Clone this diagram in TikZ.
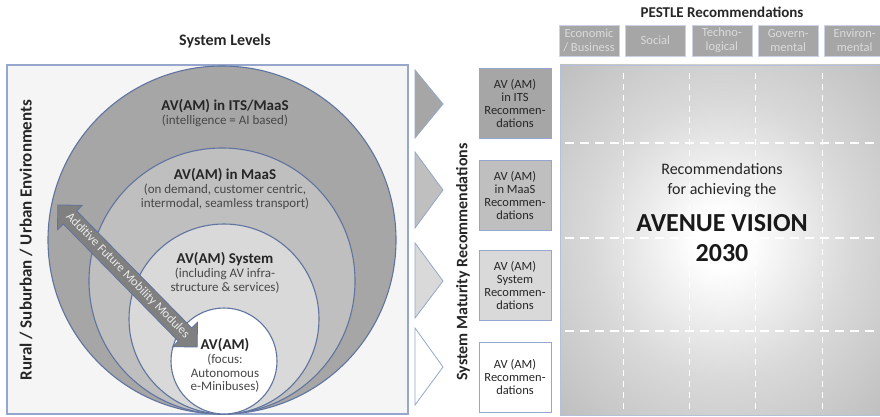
\documentclass[tikz,border=0pt]{standalone}
\usepackage{fontspec}
\setmainfont{Carlito}
\usetikzlibrary{positioning, shapes.arrows}
\usepackage{xcolor}
\colorlet{mygrayA}{black!35}
\colorlet{mygrayB}{black!25}
\colorlet{mygrayC}{black!15}
\colorlet{mytext}{black!85}
\colorlet{mysubtext}{black!72}
\definecolor{myoutline}{RGB}{96,116,160}
\definecolor{myframe}{RGB}{150,166,204}
\pgfdeclareradialshading{panelshade}{\pgfpoint{0bp}{0bp}}{color(0bp)=(white); color(4bp)=(white); color(20bp)=(black!15); color(35bp)=(black!25); color(50bp)=(black!32)}
\tikzset{
  ring/.style={circle, draw=myoutline, line width=1.1pt, inner sep=0pt},
  ring title/.style={font=\fontsize{15}{17}\selectfont\bfseries, text=mytext, inner sep=1pt, align=center},
  ring desc/.style={font=\fontsize{13}{13.5}\selectfont, text=mysubtext, inner sep=1pt, align=center},
  heading/.style={font=\fontsize{16}{18}\selectfont\bfseries, text=mytext},
  rec box/.style={draw=myframe, line width=1pt, minimum width=72pt, minimum height=70pt, inner sep=0pt, align=center, font=\fontsize{12.5}{13}\selectfont, text=mytext},
  pestle box/.style={draw=myframe!50, fill=mygrayA, minimum width=60pt, minimum height=31pt, inner sep=0pt, align=center, font=\fontsize{12.5}{14}\selectfont, text=black!14},
  chevron/.style={draw=myframe, line width=0.8pt},
  grid line/.style={white, line width=1.3pt, dash pattern=on 9pt off 6pt},
  grid col/.style={white, line width=1pt, dash pattern=on 6pt off 5pt}
}

\begin{document}
\begin{tikzpicture}[x=1pt, y=-1pt]
  \useasboundingbox (0,0) rectangle (880,417);
  \clip (0,0) rectangle (880,417);

  % =================================================================================
  % SECTION 1: SYSTEM LEVELS
  % =================================================================================

  \node[heading] (Title1) at (225,41) {System Levels};
  \draw[draw=myframe, line width=1.2pt, fill=black!4] (7,65) rectangle (408,414);

  % Nested rings, all touching the bottom edge
  \node[ring, fill=mygrayA, minimum size=348pt] (ring-its)  at (222,240) {};
  \node[ring, fill=mygrayB, minimum size=266pt] (ring-maas) at (222,281) {};
  \node[ring, fill=mygrayC, minimum size=190pt] (ring-sys)  at (224,319) {};
  \node[ring, fill=white,   minimum size=106pt] (ring-av)   at (224,361) {};

  % Ring titles and descriptions
  \node[ring title] (T-its) at (225,106) {AV(AM) in ITS/MaaS};
  \node[ring desc, below=0pt of T-its] {(intelligence = AI based)};

  \node[ring title] (T-maas) at (225,175) {AV(AM) in MaaS};
  \node[ring desc, below=0pt of T-maas] {(on demand, customer centric,\\intermodal, seamless transport)};

  \node[ring title] (T-sys) at (225,259) {AV(AM) System};
  \node[ring desc, below=0pt of T-sys] {(including AV infra-\\structure \& services)};

  \node[ring title] (T-av) at (225,345) {AV(AM)};
  \node[ring desc, below=0pt of T-av] {(focus:\\Autonomous\\e-Minibuses)};

  % Additive modules arrow
  \node[double arrow, draw=myoutline, fill=black!50, line width=0.8pt, rotate=-45.5,
        minimum height=199pt, double arrow head extend=8pt, text height=9pt, text depth=3pt,
        inner ysep=3pt, inner xsep=0pt, font=\fontsize{12.5}{12.5}\selectfont, text=black!8]
        (modules) at (127.5,276) {Additive Future Mobility Modules};

  \node[heading, rotate=90, font=\fontsize{17}{19}\selectfont\bfseries] (env) at (26,240) {Rural / Suburban / Urban Environments};

  % =================================================================================
  % SECTION 2: SYSTEM MATURITY RECOMMENDATIONS
  % =================================================================================

  \draw[chevron, fill=mygrayA] (415,70)  -- (443,104) -- (415,138) -- cycle;
  \draw[chevron, fill=mygrayB] (415,152) -- (443,190) -- (415,228) -- cycle;
  \draw[chevron, fill=mygrayC] (415,243) -- (443,281) -- (415,318) -- cycle;
  \draw[chevron, fill=white]   (415,328) -- (443,367) -- (415,405) -- cycle;

  \node[heading, rotate=90] (maturity) at (463,262) {System Maturity Recommendations};

  \node[rec box, fill=mygrayA] (rec-its)  at (515,103.5) {AV (AM)\\in ITS\\Recommen-\\dations};
  \node[rec box, fill=mygrayB] (rec-maas) at (515,195)   {AV (AM)\\in MaaS\\Recommen-\\dations};
  \node[rec box, fill=mygrayC] (rec-sys)  at (515,285)   {AV (AM)\\System\\Recommen-\\dations};
  \node[rec box, fill=white]   (rec-av)   at (515,377)   {AV (AM)\\Recommen-\\dations};

  % =================================================================================
  % SECTION 3: PESTLE RECOMMENDATIONS
  % =================================================================================

  \node[heading, font=\fontsize{15}{17}\selectfont\bfseries] (Title3) at (722,12) {PESTLE Recommendations};

  \node[pestle box] (p-eco) at (589,40.5) {Economic\\/ Business};
  \node[pestle box, right=6pt of p-eco] (p-soc) {Social};
  \node[pestle box, right=6pt of p-soc] (p-tec) {Techno-\\logical};
  \node[pestle box, right=6pt of p-tec] (p-gov) {Govern-\\mental};
  \node[pestle box, right=6pt of p-gov] (p-env) {Environ-\\mental};

  % Shaded vision panel with dashed grid
  \shade[shading=panelshade] (560,65) rectangle (884,415);
  \draw[draw=myframe!70, line width=0.8pt] (560,65) rectangle (884,415);

  \draw[grid col] (623,73) -- (623,412);
  \draw[grid col] (689,73) -- (689,412);
  \draw[grid col] (755,73) -- (755,412);
  \draw[grid col] (822,73) -- (822,412);
  \draw[grid line] (565,143) -- (884,143);
  \draw[grid line] (565,238) -- (884,238);
  \draw[grid line] (565,331) -- (884,331);

  \node[font=\fontsize{16}{20}\selectfont, text=mytext, align=center] (rec-text) at (722,180) {Recommendations\\for achieving the};
  \node[font=\fontsize{26}{30}\selectfont\bfseries, text=black!90, align=center] (vision) at (722,238) {AVENUE VISION\\2030};

\end{tikzpicture}
\end{document}
